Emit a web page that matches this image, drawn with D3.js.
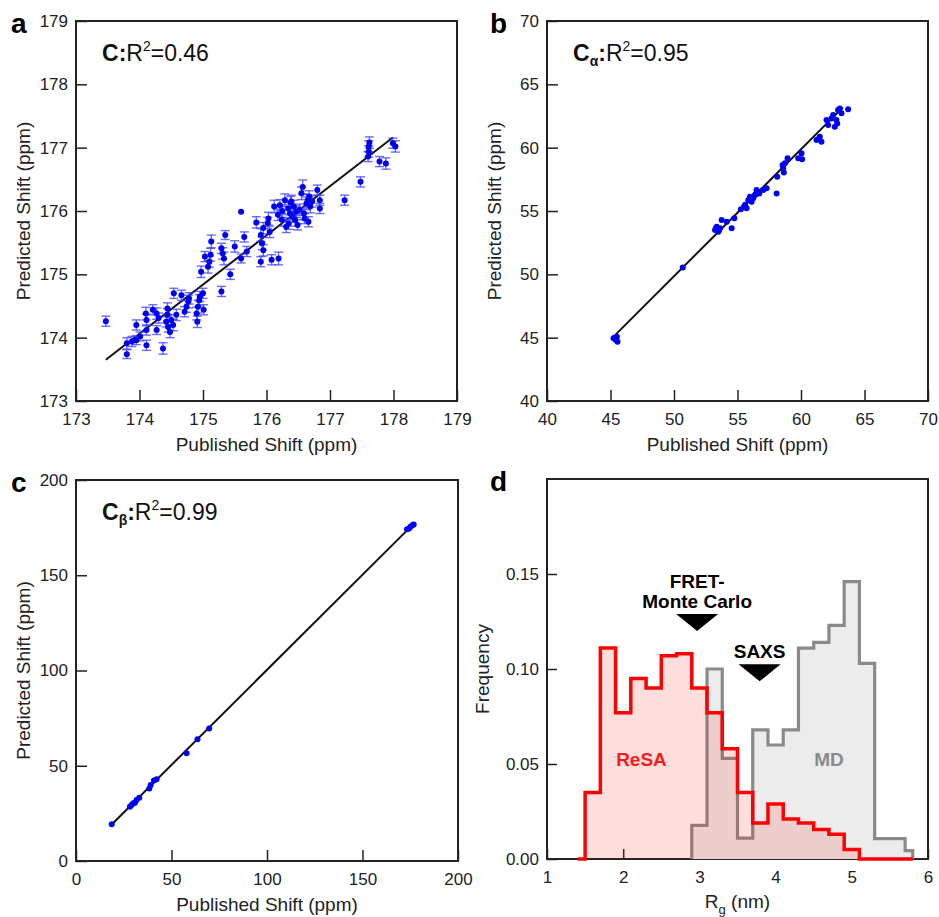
<!DOCTYPE html>
<html>
<head>
<meta charset="utf-8">
<script src="https://cdn.jsdelivr.net/npm/d3@7/dist/d3.min.js"></script>
<style>
  body { margin: 0; background: #fff; }
  svg text { font-family: "Liberation Sans", Arial, sans-serif; fill: #222; }
</style>
</head>
<body>
<div id="chart"></div>
<script>
// panel a: carbonyl C, [published, predicted, error]
const shiftC = [
  [173.47, 174.26, 0.08], [173.80, 173.74, 0.07], [173.80, 173.91, 0.09], [173.88, 173.94, 0.08],
  [173.95, 174.20, 0.08], [173.95, 173.96, 0.07], [174.01, 174.02, 0.07], [174.11, 173.88, 0.08],
  [174.10, 174.38, 0.10], [174.11, 174.28, 0.09], [174.11, 174.12, 0.08], [174.21, 174.44, 0.08],
  [174.27, 174.38, 0.09], [174.27, 174.12, 0.07], [174.30, 174.31, 0.08], [174.37, 173.83, 0.09],
  [174.42, 174.25, 0.08], [174.44, 174.46, 0.09], [174.44, 174.36, 0.10], [174.45, 174.17, 0.08],
  [174.48, 174.09, 0.09], [174.50, 174.28, 0.08], [174.53, 174.20, 0.09], [174.54, 174.70, 0.08],
  [174.58, 174.36, 0.09], [174.66, 174.67, 0.08], [174.71, 174.41, 0.08], [174.74, 174.49, 0.09],
  [174.77, 174.57, 0.10], [174.78, 174.62, 0.09], [174.90, 174.38, 0.10], [174.91, 174.25, 0.09],
  [174.92, 174.49, 0.10], [174.94, 174.59, 0.09], [174.95, 174.65, 0.08], [175.00, 174.70, 0.08],
  [175.01, 174.44, 0.08], [174.97, 175.04, 0.09], [175.03, 175.28, 0.08], [175.08, 175.12, 0.10],
  [175.10, 175.20, 0.09], [175.12, 175.31, 0.10], [175.13, 175.52, 0.10], [175.29, 174.73, 0.08],
  [175.29, 175.41, 0.08], [175.31, 175.33, 0.09], [175.33, 175.25, 0.10], [175.35, 175.62, 0.07],
  [175.43, 175.00, 0.08], [175.50, 175.44, 0.09], [175.60, 175.99, 0.00], [175.60, 175.25, 0.07],
  [175.65, 175.59, 0.08], [175.69, 175.36, 0.08], [175.84, 175.82, 0.09], [175.91, 175.62, 0.10],
  [175.91, 175.20, 0.08], [175.93, 175.49, 0.10], [175.95, 175.38, 0.09], [175.95, 175.73, 0.09],
  [176.02, 175.81, 0.09], [176.03, 175.88, 0.10], [176.05, 175.67, 0.09], [176.08, 175.23, 0.08],
  [176.12, 176.07, 0.10], [176.19, 175.25, 0.10], [176.18, 175.94, 0.09], [176.21, 176.09, 0.09],
  [176.24, 175.86, 0.10], [176.29, 176.17, 0.10], [176.31, 175.75, 0.09], [176.34, 176.04, 0.10],
  [176.37, 175.96, 0.10], [176.39, 176.15, 0.10], [176.41, 175.91, 0.09], [176.43, 176.07, 0.10],
  [176.45, 175.86, 0.10], [176.47, 175.99, 0.09], [176.49, 175.78, 0.08], [176.55, 176.28, 0.10],
  [176.57, 176.38, 0.11], [176.59, 175.96, 0.09], [176.60, 175.88, 0.08], [176.63, 176.12, 0.10],
  [176.65, 176.17, 0.09], [176.66, 175.83, 0.08], [176.67, 176.23, 0.09], [176.69, 176.07, 0.10],
  [176.72, 176.15, 0.09], [176.80, 176.33, 0.08], [176.84, 176.04, 0.08], [176.84, 176.17, 0.08],
  [176.38, 176.13, 0.10], [176.52, 176.02, 0.09], [176.25, 176.00, 0.10], [176.35, 175.80, 0.09],
  [177.23, 176.17, 0.08], [177.48, 176.46, 0.08], [177.60, 176.86, 0.08], [177.61, 177.02, 0.09],
  [177.62, 177.08, 0.09], [177.61, 176.94, 0.09], [177.78, 176.78, 0.08], [177.88, 176.75, 0.09],
  [177.99, 177.07, 0.08], [178.03, 177.02, 0.09]
];
const fitC = [[173.47, 173.65], [177.99, 177.16]];
const ticksC = [173, 174, 175, 176, 177, 178, 179];

// panel b: C alpha
const shiftCA = [
  [45.24, 44.95], [45.42, 44.82], [45.50, 45.08], [45.55, 44.68], [45.35, 45.02],
  [50.69, 50.53],
  [53.23, 53.50], [53.36, 53.76], [53.49, 53.37], [53.62, 53.63], [53.30, 53.62], [53.55, 53.50],
  [53.75, 54.29], [54.15, 54.16], [54.54, 53.63], [54.75, 54.42],
  [55.27, 55.13], [55.51, 55.34], [55.72, 55.21], [55.85, 55.87], [55.98, 56.13], [56.11, 55.74],
  [56.24, 56.00], [56.37, 56.26], [56.50, 56.66], [56.71, 56.39], [57.03, 56.66], [57.29, 56.79],
  [55.60, 55.50], [56.00, 55.95], [56.45, 56.35],
  [58.08, 56.39], [58.13, 57.71], [58.55, 58.63], [58.65, 58.03], [58.73, 58.76], [58.94, 59.16],
  [58.60, 58.40],
  [59.78, 59.16], [60.04, 59.55], [60.09, 59.08],
  [61.22, 60.61], [61.48, 60.87], [61.61, 60.47], [61.40, 60.70],
  [62.01, 62.18], [62.14, 61.79], [62.53, 62.58], [62.66, 61.66], [62.79, 62.18], [62.92, 62.97],
  [63.05, 63.10], [63.19, 62.71], [63.71, 63.03], [62.40, 62.30], [62.85, 61.90]
];
const fitCA = [[45.42, 45.26], [63.30, 63.18]];
const ticksCA = [40, 45, 50, 55, 60, 65, 70];

// panel c: C beta
const shiftCB = [
  [18.7, 19.3], [28.2, 28.5], [29.1, 29.4], [30.0, 30.3], [30.9, 30.6], [31.7, 32.0], [33.1, 33.2],
  [38.4, 38.1], [39.1, 39.9], [40.8, 42.2], [42.2, 42.9], [57.9, 56.5], [63.6, 63.9], [69.7, 69.6],
  [173.3, 174.1], [174.4, 174.6], [175.1, 175.5], [176.1, 176.2], [176.8, 176.7]
];
const fitCB = [[18.7, 19.2], [176.5, 176.7]];
const ticksCB = [0, 50, 100, 150, 200];

// panel d: Rg histograms, [bin start (nm), frequency]
const resaSteps = [
  [1.4, 0], [1.5, 0.035], [1.7, 0.111], [1.9, 0.077], [2.1, 0.095], [2.3, 0.090], [2.5, 0.107],
  [2.7, 0.108], [2.9, 0.090], [3.1, 0.077], [3.3, 0.058], [3.5, 0.035], [3.7, 0.019], [3.9, 0.029],
  [4.1, 0.021], [4.3, 0.019], [4.5, 0.0155], [4.7, 0.013], [4.9, 0.005], [5.1, 0], [5.8, 0]
];
const mdSteps = [
  [2.9, 0], [2.9, 0.0177], [3.1, 0.100], [3.3, 0.053], [3.5, 0.011], [3.7, 0.068], [3.9, 0.060],
  [4.1, 0.068], [4.3, 0.111], [4.5, 0.114], [4.7, 0.123], [4.9, 0.146], [5.1, 0.103], [5.3, 0.0107],
  [5.7, 0.0044], [5.8, 0]
];
const rgTicks = [1, 2, 3, 4, 5, 6];
const freqTicks = [0, 0.05, 0.10, 0.15];
const rgMarkers = [
  { lines: ["FRET-", "Monte Carlo"], x: 2.97, y: 0.120 },
  { lines: ["SAXS"], x: 3.79, y: 0.0935 }
];
const histLabels = [
  { text: "ReSA", x: 2.24, y: 0.049, color: "#ff1a1a" },
  { text: "MD", x: 4.70, y: 0.049, color: "#8a8a8a" }
];

const width = 939, height = 917;
const svg = d3.select("#chart").append("svg").attr("width", width).attr("height", height);

function styleAxis(sel) {
  sel.attr("font-size", 17).attr("font-family", "Liberation Sans, Arial, sans-serif");
  sel.select(".domain").remove();
  sel.selectAll(".tick line").attr("stroke", "#222").attr("stroke-width", 1.5);
}

function frame(g, w, h) {
  g.append("rect").attr("width", w).attr("height", h)
    .attr("fill", "none").attr("stroke", "#222").attr("stroke-width", 2);
}

function panelLetter(x, y, s) {
  svg.append("text").attr("x", x).attr("y", y).attr("font-size", 28)
    .attr("font-weight", "bold").style("fill", "#000").text(s);
}

function scatterPanel(p) {
  const g = svg.append("g").attr("transform", `translate(${p.left},${p.top})`);
  const x = d3.scaleLinear().domain(d3.extent(p.ticks)).range([0, p.w]);
  const y = d3.scaleLinear().domain(d3.extent(p.ticks)).range([p.h, 0]);

  g.append("g").attr("transform", `translate(0,${p.h})`)
    .call(d3.axisBottom(x).tickValues(p.ticks).tickFormat(d3.format("d"))
      .tickSizeInner(-11).tickSizeOuter(0).tickPadding(12))
    .call(styleAxis);
  g.append("g")
    .call(d3.axisLeft(y).tickValues(p.ticks).tickFormat(d3.format("d"))
      .tickSizeInner(-11).tickSizeOuter(0).tickPadding(8))
    .call(styleAxis);
  frame(g, p.w, p.h);

  g.append("text").attr("x", p.w / 2).attr("y", p.h + 50).attr("text-anchor", "middle")
    .attr("font-size", 19).text("Published Shift (ppm)");
  g.append("text").attr("transform", `translate(-46,${p.h / 2}) rotate(-90)`)
    .attr("text-anchor", "middle").attr("font-size", 19).text("Predicted Shift (ppm)");

  // R^2 annotation
  const t = g.append("text").attr("x", 26).attr("y", 40).attr("font-size", 23).style("fill", "#111");
  t.append("tspan").attr("font-weight", "bold").text("C");
  if (p.sub) {
    t.append("tspan").attr("font-weight", "bold").attr("font-size", 14).attr("dy", 5).text(p.sub);
    t.append("tspan").attr("font-weight", "bold").attr("dy", -5).text(":");
  } else {
    t.append("tspan").attr("font-weight", "bold").text(":");
  }
  t.append("tspan").text("R");
  t.append("tspan").attr("font-size", 14).attr("dy", -10).text("2");
  t.append("tspan").attr("dy", 10).text("=" + p.r2);

  // fit line
  g.append("path").datum(p.fit)
    .attr("d", d3.line().x(d => x(d[0])).y(d => y(d[1])))
    .attr("stroke", "#111").attr("stroke-width", 2).attr("fill", "none");

  // error bars
  const eb = g.append("g").attr("stroke", "#3c3cff").attr("stroke-opacity", 0.75).attr("stroke-width", 1.4);
  p.data.filter(d => d[2]).forEach(d => {
    const cx = x(d[0]), y1 = y(d[1] + d[2]), y2 = y(d[1] - d[2]);
    eb.append("line").attr("x1", cx).attr("x2", cx).attr("y1", y1).attr("y2", y2);
    eb.append("line").attr("x1", cx - 4.5).attr("x2", cx + 4.5).attr("y1", y1).attr("y2", y1);
    eb.append("line").attr("x1", cx - 4.5).attr("x2", cx + 4.5).attr("y1", y2).attr("y2", y2);
  });

  g.selectAll("circle.pt").data(p.data).enter().append("circle")
    .attr("class", "pt")
    .attr("cx", d => x(d[0])).attr("cy", d => y(d[1]))
    .attr("r", 3).attr("fill", "#0000f0");
}

scatterPanel({ left: 76, top: 21, w: 381, h: 380, ticks: ticksC, data: shiftC, fit: fitC, r2: "0.46" });
scatterPanel({ left: 547, top: 21, w: 381, h: 380, ticks: ticksCA, data: shiftCA, fit: fitCA, r2: "0.95", sub: "α" });
scatterPanel({ left: 76, top: 480, w: 382, h: 381, ticks: ticksCB, data: shiftCB, fit: fitCB, r2: "0.99", sub: "β" });

// panel d
(function () {
  const w = 381, h = 380;
  const g = svg.append("g").attr("transform", "translate(547,479)");
  const x = d3.scaleLinear().domain([1, 6]).range([0, w]);
  const y = d3.scaleLinear().domain([0, 0.2]).range([h, 0]);

  g.append("g").attr("transform", `translate(0,${h})`)
    .call(d3.axisBottom(x).tickValues(rgTicks).tickFormat(d3.format("d"))
      .tickSizeInner(-10).tickSizeOuter(0).tickPadding(12))
    .call(styleAxis);
  g.append("g")
    .call(d3.axisLeft(y).tickValues(freqTicks).tickFormat(d3.format(".2f"))
      .tickSizeInner(-10).tickSizeOuter(0).tickPadding(8))
    .call(styleAxis);
  frame(g, w, h);

  const area = d3.area().curve(d3.curveStepAfter).x(d => x(d[0])).y0(y(0)).y1(d => y(d[1]));
  const line = d3.line().curve(d3.curveStepAfter).x(d => x(d[0])).y(d => y(d[1]));

  g.append("path").datum(mdSteps).attr("d", area).attr("fill", "#ececec");
  g.append("path").datum(mdSteps).attr("d", line).attr("fill", "none")
    .attr("stroke", "#8a8a8a").attr("stroke-width", 3.2);
  g.append("path").datum(resaSteps).attr("d", area).attr("fill", "rgba(255,0,0,0.13)");
  g.append("path").datum(resaSteps).attr("d", line).attr("fill", "none")
    .attr("stroke", "#ff0000").attr("stroke-width", 3.5);

  rgMarkers.forEach(m => {
    const cx = x(m.x), cy = y(m.y);
    g.append("path").attr("d", `M${cx - 21},${cy - 17}L${cx + 21},${cy - 17}L${cx},${cy}Z`).attr("fill", "#000");
    m.lines.forEach((s, i) => {
      g.append("text").attr("x", cx).attr("y", cy - 23 - (m.lines.length - 1 - i) * 20)
        .attr("text-anchor", "middle").attr("font-size", 19).attr("font-weight", "bold")
        .style("fill", "#000").text(s);
    });
  });

  histLabels.forEach(l => {
    g.append("text").attr("x", x(l.x)).attr("y", y(l.y)).attr("text-anchor", "middle")
      .attr("font-size", 19).attr("font-weight", "bold").style("fill", l.color).text(l.text);
  });

  const xt = g.append("text").attr("x", w / 2).attr("y", h + 49).attr("text-anchor", "middle").attr("font-size", 19);
  xt.append("tspan").text("R");
  xt.append("tspan").attr("font-size", 13).attr("dy", 6).text("g");
  xt.append("tspan").attr("dy", -6).text(" (nm)");
  g.append("text").attr("transform", `translate(-58,${h / 2}) rotate(-90)`)
    .attr("text-anchor", "middle").attr("font-size", 19).text("Frequency");
})();

panelLetter(11, 33, "a");
panelLetter(490, 33, "b");
panelLetter(11, 492, "c");
panelLetter(490, 491, "d");
</script>
</body>
</html>
